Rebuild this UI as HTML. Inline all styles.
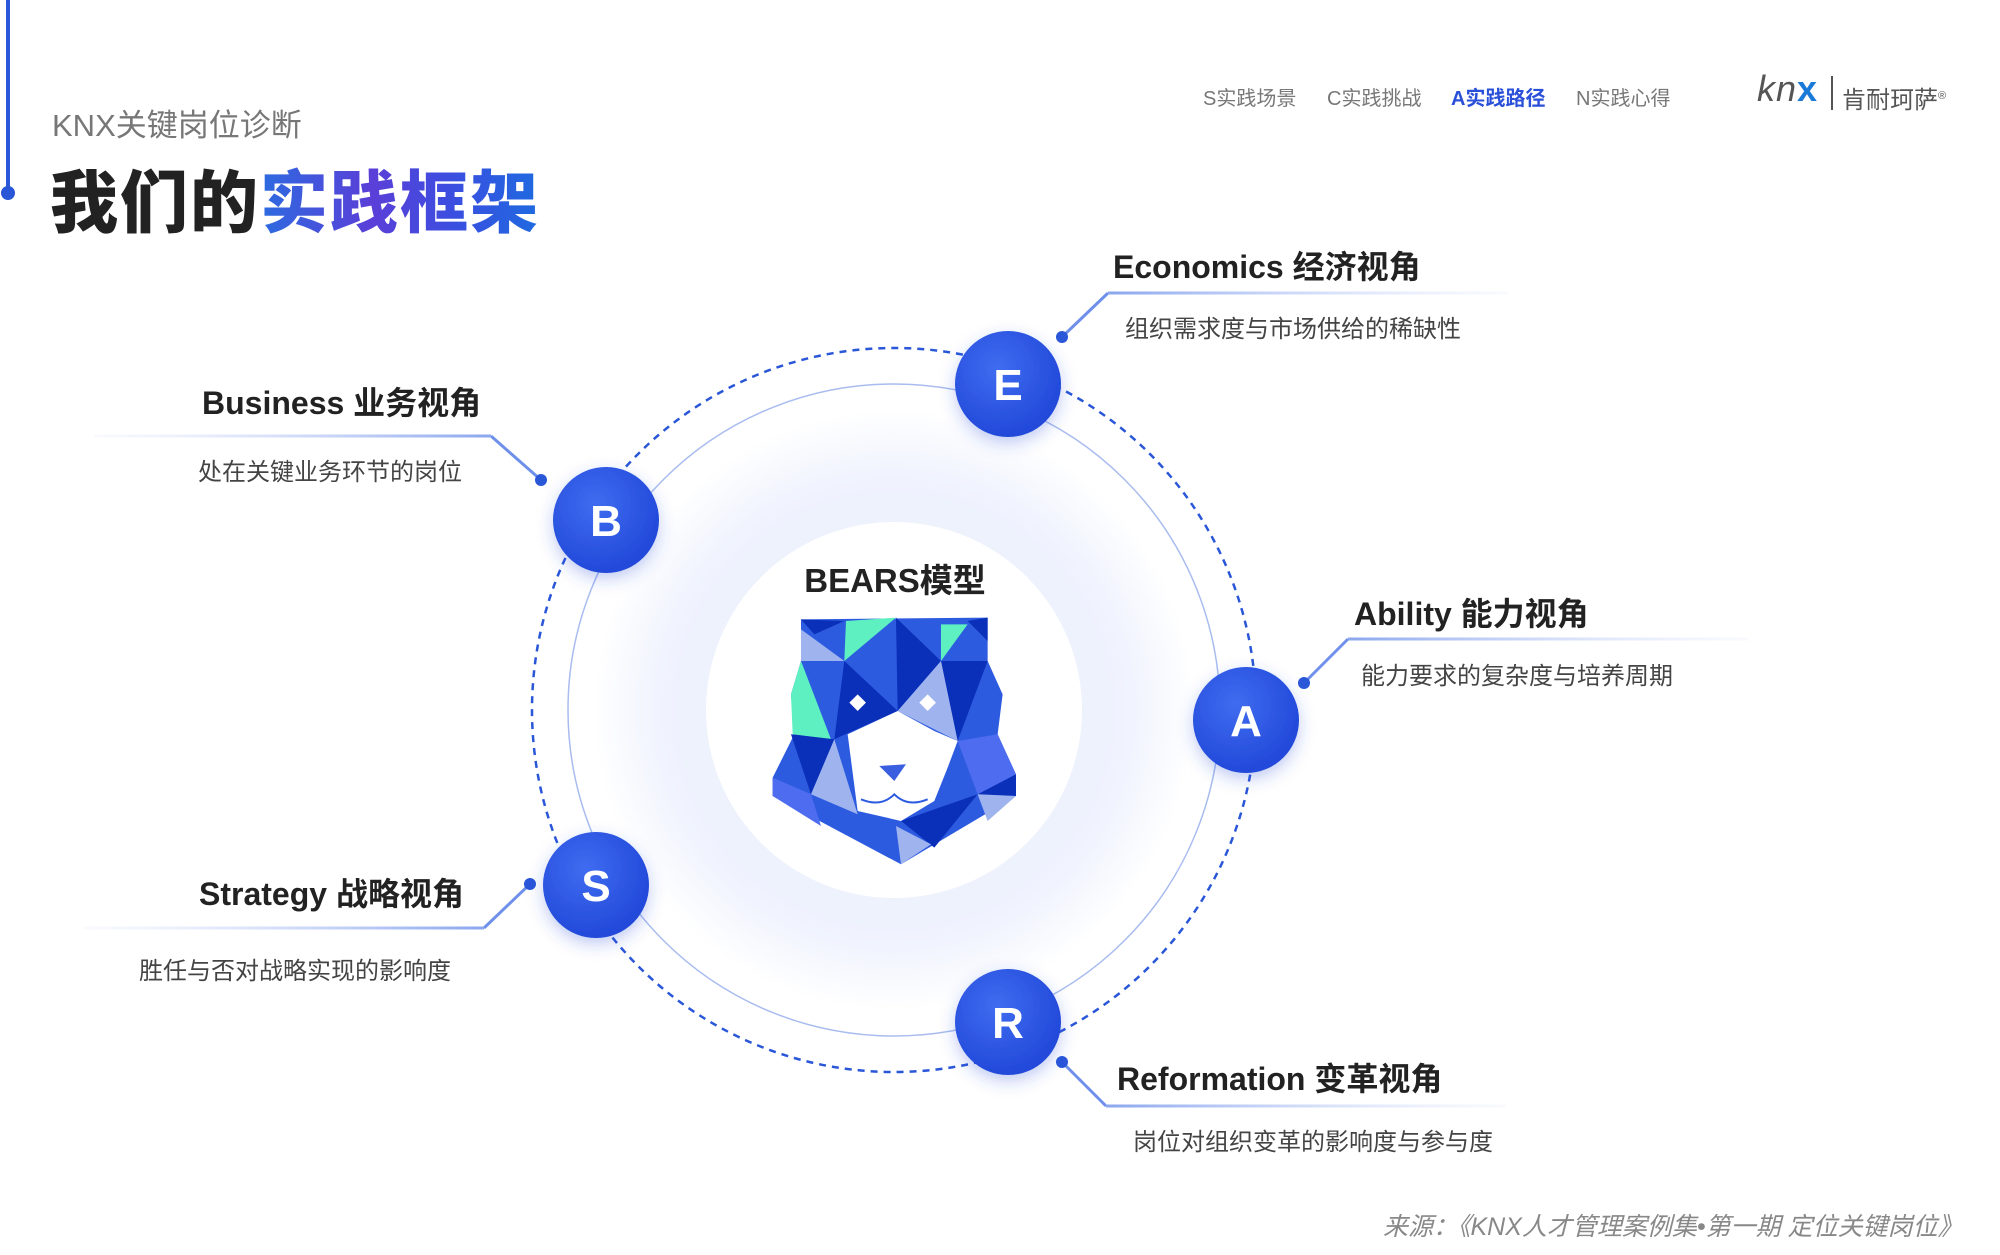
<!DOCTYPE html>
<html><head><meta charset="utf-8"><style>
html,body{margin:0;padding:0;background:#fff;}
body{width:2000px;height:1255px;position:relative;overflow:hidden;font-family:"Liberation Sans","Noto Sans CJK SC",sans-serif;}
.a{position:absolute;white-space:nowrap;}
.h{font-weight:bold;color:#222;font-size:32px;}
.d{color:#444;font-size:24px;}
.nav{font-size:20px;color:#777;top:82px;}
</style></head><body>
<div class="a" style="left:6px;top:0;width:4px;height:192px;background:#2a56d8"></div>
<div class="a" style="left:1px;top:186px;width:14px;height:14px;border-radius:50%;background:#2a56d8"></div>
<div class="a" style="left:52px;top:100px;font-size:31px;color:#777">KNX关键岗位诊断</div>
<div class="a" style="left:50px;top:148px;font-size:68px;font-weight:900;color:#222;letter-spacing:2px">我们的<span style="background:linear-gradient(90deg,#2d6be0,#5a3fd8 40%,#3a4fe0 70%,#1e6ae0);-webkit-background-clip:text;background-clip:text;color:transparent">实践框架</span></div>

<div class="a nav" style="left:1203px">S实践场景</div>
<div class="a nav" style="left:1327px">C实践挑战</div>
<div class="a nav" style="left:1451px;color:#2a4fd8;font-weight:bold">A实践路径</div>
<div class="a nav" style="left:1576px">N实践心得</div>
<div class="a" style="left:1757px;top:68px;font-size:36px;color:#555;font-style:italic;letter-spacing:1px">kn<span style="color:#1a7ad8;font-weight:bold;font-style:normal">x</span></div>
<div class="a" style="left:1831px;top:76px;width:2px;height:34px;background:#555"></div>
<div class="a" style="left:1842px;top:80px;font-size:24px;color:#555">肯耐珂萨<sup style="font-size:11px">®</sup></div>

<svg class="a" style="left:0;top:0" width="2000" height="1255">
<defs>
<radialGradient id="g" cx="0.5" cy="0.5" r="0.5">
<stop offset="0.55" stop-color="#e9eefc"/><stop offset="0.8" stop-color="#f1f4fe"/><stop offset="1" stop-color="#fff"/>
</radialGradient>
<radialGradient id="nb" cx="0.4" cy="0.35" r="0.7"><stop offset="0" stop-color="#3f6cf0"/><stop offset="1" stop-color="#1f46d8"/></radialGradient>
<filter id="sh" x="-50%" y="-50%" width="200%" height="200%"><feDropShadow dx="0" dy="6" stdDeviation="8" flood-color="#2a4fd8" flood-opacity="0.3"/></filter>
<linearGradient id="lr" x1="0" x2="1"><stop offset="0" stop-color="#dfe6fb" stop-opacity="0.2"/><stop offset="1" stop-color="#8aa6ee"/></linearGradient>
<linearGradient id="ll" x1="0" x2="1"><stop offset="0" stop-color="#8aa6ee"/><stop offset="1" stop-color="#dfe6fb" stop-opacity="0.2"/></linearGradient>
</defs>
<g transform="translate(-9,-6)">
<circle cx="903" cy="716" r="300" fill="url(#g)"/>
<circle cx="903" cy="716" r="217" fill="#eef2fd"/>
<circle cx="903" cy="716" r="188" fill="#fff"/>
<circle cx="903" cy="716" r="326" fill="none" stroke="#a9bcef" stroke-width="1.5"/>
<circle cx="903" cy="716" r="362" fill="none" stroke="#2a56d8" stroke-width="2.5" stroke-dasharray="7 6"/>
<g stroke-width="3" fill="none" stroke="#6f90ea">
<polyline points="1071,343 1117,299"/>
<polyline points="550,486 500,442"/>
<polyline points="1313,689 1357,645"/>
<polyline points="539,890 493,934"/>
<polyline points="1071,1068 1115,1112"/>
</g>
<rect x="1117" y="297.5" width="400" height="3" fill="url(#ll)"/>
<rect x="103" y="440.5" width="397" height="3" fill="url(#lr)"/>
<rect x="1357" y="643.5" width="400" height="3" fill="url(#ll)"/>
<rect x="93" y="932.5" width="400" height="3" fill="url(#lr)"/>
<rect x="1115" y="1110.5" width="400" height="3" fill="url(#ll)"/>
<g fill="#2a56d8"><circle cx="1071" cy="343" r="6"/><circle cx="550" cy="486" r="6"/><circle cx="1313" cy="689" r="6"/><circle cx="539" cy="890" r="6"/><circle cx="1071" cy="1068" r="6"/></g>
<g filter="url(#sh)" fill="url(#nb)">
<circle cx="1017" cy="390" r="53"/><circle cx="615" cy="526" r="53"/><circle cx="1255" cy="726" r="53"/><circle cx="605" cy="891" r="53"/><circle cx="1017" cy="1028" r="53"/>
</g>
<g fill="#fff" font-family="Liberation Sans,sans-serif" font-weight="bold" font-size="44" text-anchor="middle">
<text x="1017" y="406">E</text><text x="615" y="542">B</text><text x="1255" y="742">A</text><text x="605" y="907">S</text><text x="1017" y="1044">R</text>
</g>
<text x="904" y="598" text-anchor="middle" font-size="33" font-weight="bold" fill="#222" font-family="Liberation Sans,Noto Sans CJK SC,sans-serif">BEARS模型</text>
</g>
<g transform="translate(701,501) scale(0.3333)">
<polygon points="300,355 860,350 860,480 905,580 890,700 945,820 945,885 600,1090 215,885 215,830 280,700 270,580 300,480" fill="#2d5be0"/>
<polygon points="435,360 585,350 430,480" fill="#5ef0c0"/>
<polygon points="720,370 800,370 720,480" fill="#5ef0c0"/>
<polygon points="300,480 390,715 275,700 270,580" fill="#5ef0c0"/>
<polygon points="585,350 720,480 590,630" fill="#0a2fb8"/>
<polygon points="430,480 590,630 400,715" fill="#0a2fb8"/>
<polygon points="300,355 430,360 340,400" fill="#0a2fb8"/>
<polygon points="800,360 860,350 860,420" fill="#0a2fb8"/>
<polygon points="720,480 860,480 770,720" fill="#0a2fb8"/>
<polygon points="270,700 400,715 330,880" fill="#0a2fb8"/>
<polygon points="830,880 945,820 945,885" fill="#0a2fb8"/>
<polygon points="600,960 830,880 700,1040" fill="#0a2fb8"/>
<polygon points="300,385 430,480 300,480" fill="#9fb4ef"/>
<polygon points="590,630 720,480 770,720" fill="#9fb4ef"/>
<polygon points="400,715 330,880 470,940" fill="#9fb4ef"/>
<polygon points="585,975 600,1090 690,1030" fill="#9fb4ef"/>
<polygon points="830,880 945,885 860,960" fill="#9fb4ef"/>
<polygon points="770,720 890,700 945,820 830,880" fill="#4d6cf0"/>
<polygon points="215,830 330,880 360,975 215,885" fill="#4d6cf0"/>
<polygon points="440,700 590,630 700,690 770,720 740,800 700,900 600,960 470,930" fill="#fff"/>
<polygon points="470,580 495,605 470,630 445,605" fill="#fff"/>
<polygon points="680,580 705,605 680,630 655,605" fill="#fff"/>
<polygon points="535,795 615,790 580,840" fill="#3a5ee0"/>
<path d="M480,895 Q540,920 580,880 Q620,920 680,895" stroke="#2d5be0" stroke-width="6" fill="none"/>
</g>
</svg>

<div class="a h" style="left:1113px;top:242px">Economics 经济视角</div>
<div class="a d" style="left:1125px;top:309px">组织需求度与市场供给的稀缺性</div>
<div class="a h" style="left:202px;top:378px">Business 业务视角</div>
<div class="a d" style="left:198px;top:452px">处在关键业务环节的岗位</div>
<div class="a h" style="left:1354px;top:589px">Ability 能力视角</div>
<div class="a d" style="left:1361px;top:656px">能力要求的复杂度与培养周期</div>
<div class="a h" style="left:199px;top:869px">Strategy 战略视角</div>
<div class="a d" style="left:139px;top:951px">胜任与否对战略实现的影响度</div>
<div class="a h" style="left:1117px;top:1054px">Reformation 变革视角</div>
<div class="a d" style="left:1133px;top:1122px">岗位对组织变革的影响度与参与度</div>
<div class="a" style="left:1383px;top:1207px;font-size:25px;color:#888;font-style:italic">来源：《KNX人才管理案例集•第一期 定位关键岗位》</div>
</body></html>
